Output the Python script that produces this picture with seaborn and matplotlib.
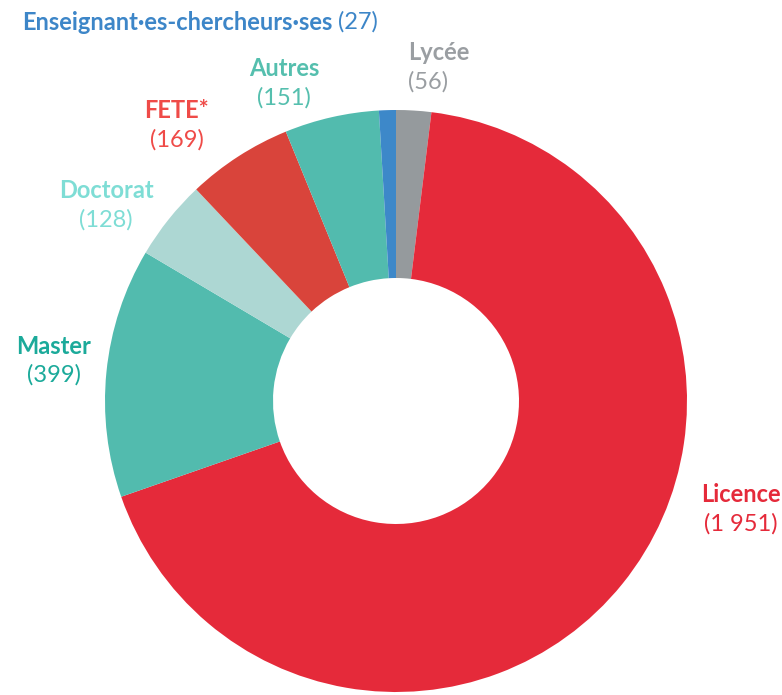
import matplotlib.pyplot as plt
import seaborn as sns

# Data (clockwise from 12 o'clock)
categories = ["Lycée", "Licence", "Master", "Doctorat", "FETE*", "Autres",
              "Enseignant·es-chercheurs·ses"]
values = [56, 1951, 399, 128, 169, 151, 27]
value_labels = ["(56)", "(1 951)", "(399)", "(128)", "(169)", "(151)", "(27)"]

wedge_colors = ["#959A9D", "#E52A3A", "#52BBAE", "#ADD7D3", "#D9443B", "#52BBAE", "#3D88C9"]
label_colors = ["#9A9EA2", "#E52A3A", "#1BAA9A", "#7EDDD5", "#EF4B48", "#55BFAE", "#3D86C8"]

# label anchors in pixels (x, y from top) and horizontal alignment
label_pos = [(408, 53), (741, 495), (54, 346), (106, 191), (177, 111), (284, 69), None]
label_ha = ["left", "center", "center", "center", "center", "center", None]

W, H = 782, 695
FS = 17
sns.set_theme(style="white")
plt.rcParams["font.family"] = ["Lato", "DejaVu Sans"]

fig = plt.figure(figsize=(W / 100, H / 100), dpi=100)
ax = fig.add_axes([0, 0, 1, 1])

cx, cy, r, r_in = 396, 401, 291, 123
ax.pie(values, colors=wedge_colors, startangle=90, counterclock=False,
       center=(cx, H - cy), radius=r,
       wedgeprops=dict(width=r - r_in, linewidth=0))

ax.set_xlim(0, W)
ax.set_ylim(0, H)
ax.set_aspect("equal")
ax.axis("off")

for name, num, col, pos, ha in zip(categories, value_labels, label_colors, label_pos, label_ha):
    if pos is None:
        continue
    x, y = pos
    ax.text(x, H - y, name, color=col, fontsize=FS, fontweight="bold",
            ha=ha, va="center")
    ax.text(x, H - y - 29, num, color=col, fontsize=FS,
            ha=ha, va="center")

# single-line label for the small blue slice
t = ax.text(22, H - 22, categories[6], color=label_colors[6], fontsize=FS,
            fontweight="bold", ha="left", va="center")
fig.canvas.draw()
bb = t.get_window_extent()
x1 = ax.transData.inverted().transform((bb.x1, bb.y0))[0]
ax.text(x1 + 6, H - 22, value_labels[6], color=label_colors[6], fontsize=FS,
        ha="left", va="center")

fig.savefig("out.png", dpi=100)
